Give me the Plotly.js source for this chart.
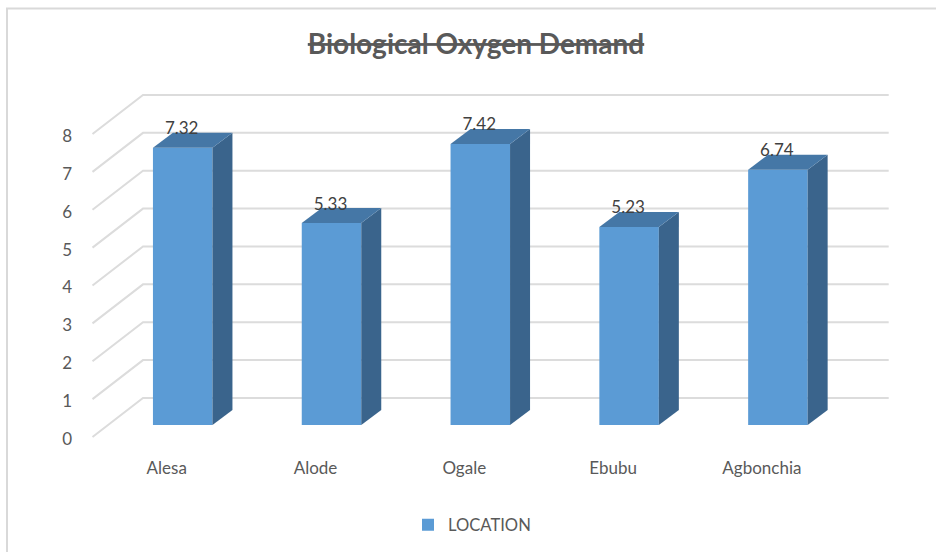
<!DOCTYPE html>
<html><head><meta charset="utf-8">
<script src="https://cdn.plot.ly/plotly-3.0.1.min.js"></script>
<style>html,body{margin:0;padding:0;background:#fff}#c{width:936px;height:552px}</style>
</head><body><div id="c"></div>
<script>
const categories = ["Alesa","Alode","Ogale","Ebubu","Agbonchia"];
const values = [7.32,5.33,7.42,5.23,6.74];
const yTicks = [0,1,2,3,4,5,6,7,8];
const W=936,H=552,L=90,R=46,T=90,B=97;
const ux=148.8, uy=37.88;            // pixels per x / y unit
const x0px=182.7, y0px=437;          // where x=0, y=0 fall
const barW=59.5/ux, barBase=12/uy;
const sideDx=20/ux, sideDy=15/uy;
const wallDx=50.5/ux, wallDy=39/uy;
const leftX=(92.5-x0px)/ux, rightX=(888.7-x0px)/ux;
const px=p=>(p-L)/(W-L-R), py=p=>1-(p-T)/(H-T-B);
const idx=categories.map((_,i)=>i);
const shapes=yTicks.map(v=>({type:'path',layer:'below',xref:'x',yref:'y',
  path:`M${leftX},${v} L${leftX+wallDx},${v+wallDy} L${rightX},${v+wallDy}`,
  line:{color:'#DCDCDC',width:2}}));
shapes.push({type:'path',layer:'below',xref:'paper',yref:'paper',
  path:`M${px(7)},${py(552)} L${px(7)},${py(8.5)} L${px(936)},${py(8.5)}`,
  line:{color:'#D9D9D9',width:2}});
const face=(xs,ys,c)=>({type:'scatter',mode:'lines',x:xs,y:ys,fill:'toself',fillcolor:c,
  line:{width:0,color:c},showlegend:false,hoverinfo:'skip'});
const traces=[{type:'bar',name:'LOCATION',x:idx,y:values,base:idx.map(()=>barBase),width:barW,
  marker:{color:'#5B9BD5',line:{width:0}},showlegend:true,hoverinfo:'skip'}];
idx.forEach(i=>{
  const a=i-barW/2,b=i+barW/2,top=values[i]+barBase;
  traces.push(face([b,b+sideDx,b+sideDx,b,b],[barBase,barBase+sideDy,top+sideDy,top,barBase],'#3A648C'));
  traces.push(face([a,a+sideDx,b+sideDx,b,a],[top,top+sideDy,top+sideDy,top,top],'#4577A6'));
});
traces.push({type:'scatter',mode:'text',x:idx.map(i=>i-1/ux),y:values.map(v=>v+barBase+17.7/uy),
  text:values.map(v=>v.toFixed(2)),textposition:'middle center',
  textfont:{family:'Lato',size:17,color:'#404040'},showlegend:false,hoverinfo:'skip',cliponaxis:false});
const layout={width:W,height:H,paper_bgcolor:'#fff',plot_bgcolor:'rgba(0,0,0,0)',
  margin:{l:L,r:R,t:T,b:B,autoexpand:false},showlegend:true,barmode:'overlay',
  font:{family:'Lato',color:'#595959',size:16},
  title:{text:'Biological Oxygen Demand',x:476/W,xanchor:'center',y:1-44/H,yanchor:'middle',
    font:{family:'Lato',size:28,weight:700,color:'#595959',lineposition:'through'}},
  xaxis:{range:[(L-x0px)/ux,(W-R-x0px)/ux],tickmode:'array',tickvals:idx.map(i=>i-16/ux),ticktext:categories,
    showgrid:false,zeroline:false,showline:false,ticks:'',ticklabelstandoff:1,tickfont:{family:'Lato',size:17,color:'#595959'},fixedrange:true},
  yaxis:{range:[(y0px-(H-B))/uy,(y0px-T)/uy],tickmode:'array',tickvals:yTicks.map(v=>v-2/uy),ticktext:yTicks.map(String),
    showgrid:false,zeroline:false,showline:false,ticks:'',ticklabelstandoff:17,tickfont:{family:'Lato',size:17,color:'#595959'},fixedrange:true},
  legend:{orientation:'h',x:px(477),xanchor:'center',y:py(525),yanchor:'middle',indentation:-10,font:{family:'Lato',size:16.6,color:'#595959'},bgcolor:'rgba(0,0,0,0)'},
  shapes};
Plotly.newPlot('c',traces,layout,{displayModeBar:false,staticPlot:true});
</script></body></html>
